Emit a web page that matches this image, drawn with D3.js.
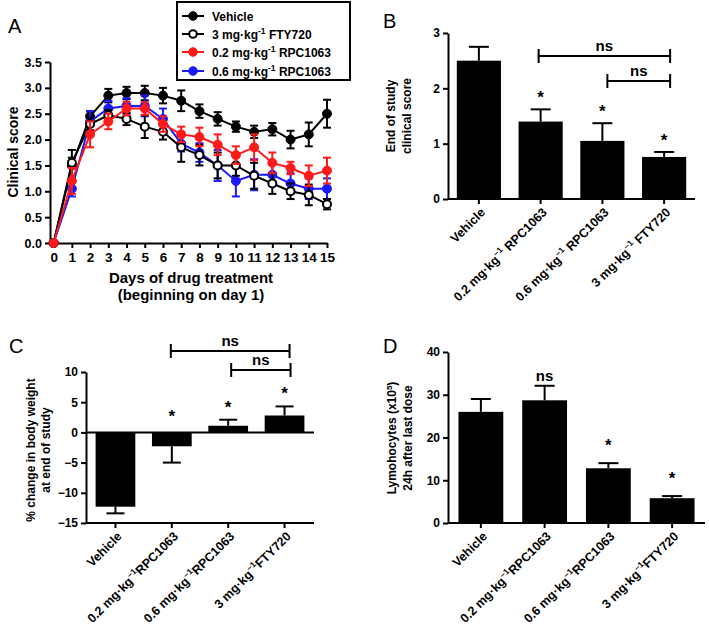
<!DOCTYPE html>
<html><head><meta charset="utf-8">
<script src="https://cdn.jsdelivr.net/npm/d3@7"></script>
<style>
body{margin:0;background:#fff;}
text{font-family:"Liberation Sans",Arial,sans-serif;}
</style></head>
<body>
<script>
// ---------- DATA ----------
const days = [0,1,2,3,4,5,6,7,8,9,10,11,12,13,14,15];
const vehicle    = [0,1.5,2.45,2.85,2.9,2.9,2.85,2.75,2.55,2.4,2.25,2.15,2.2,2.0,2.1,2.5];
const vehicleErr = [0,0.3,0.1,0.13,0.12,0.14,0.15,0.2,0.13,0.13,0.1,0.12,0.12,0.17,0.23,0.27];
const fty        = [0,1.55,2.3,2.47,2.4,2.25,2.15,1.85,1.7,1.5,1.5,1.3,1.15,1.0,0.93,0.75];
const ftyErr     = [0,0.1,0.12,0.1,0.12,0.22,0.15,0.28,0.2,0.25,0.2,0.25,0.2,0.15,0.2,0.1];
const rpc02      = [0,1.2,2.1,2.35,2.6,2.6,2.3,2.1,2.05,1.9,1.7,1.85,1.55,1.45,1.3,1.4];
const rpc02Err   = [0,0.25,0.25,0.15,0.13,0.12,0.15,0.15,0.18,0.2,0.17,0.25,0.2,0.12,0.2,0.25];
const rpc06      = [0,1.05,2.35,2.6,2.65,2.65,2.4,1.92,1.75,1.5,1.2,1.32,1.32,1.15,1.05,1.05];
const rpc06Err   = [0,0.15,0.2,0.15,0.15,0.2,0.2,0.15,0.18,0.3,0.3,0.3,0.2,0.2,0.2,0.2];
const seriesNames = ["Vehicle","3 mg·kg^{-1} FTY720","0.2 mg·kg^{-1} RPC1063","0.6 mg·kg^{-1} RPC1063"];
const ticksA_y = [0,0.5,1,1.5,2,2.5,3,3.5];

const catsB = ["Vehicle","0.2 mg·kg^{−1} RPC1063","0.6 mg·kg^{−1} RPC1063","3 mg·kg^{−1} FTY720"];
const catsCD = ["Vehicle","0.2 mg·kg^{−1}RPC1063","0.6 mg·kg^{−1}RPC1063","3 mg·kg^{−1}FTY720"];
const scoreB = [2.5,1.4,1.05,0.76];
const scoreBErr = [0.25,0.22,0.32,0.09];
const marksB = ["","*","*","*"];
const weightC = [-12.3,-2.3,1.1,2.8];
const weightCErr = [1.1,2.7,1.0,1.5];
const marksC = ["","*","*","*"];
const lymphD = [26.0,28.7,12.8,5.8];
const lymphDErr = [3.0,3.4,1.2,0.5];
const marksD = ["","ns","*","*"];
const ticksB = [0,1,2,3];
const ticksC = [-15,-10,-5,0,5,10];
const ticksD = [0,10,20,30,40];

// ---------- HELPERS ----------
const W=709,H=627;
const svg=d3.select("body").append("svg").attr("width",W).attr("height",H);
const BOLD="bold";
function rich(sel,str,supSize){
  const parts=str.split(/\^\{([^}]*)\}/);
  parts.forEach((p,i)=>{
    if(!p) return;
    const t=sel.append("tspan").text(p);
    if(i%2===1){t.attr("baseline-shift","super").attr("font-size",supSize);}
  });
  return sel;
}
function axisStyle(g){
  g.selectAll("path,line").attr("stroke","#000").attr("stroke-width",2);
  g.selectAll("text").attr("font-weight",BOLD).attr("fill","#000");
}

// ---------- PANEL A ----------
const xA=d3.scaleLinear().domain([-0.2,15]).range([50,327]);
const yA=d3.scaleLinear().domain([0,3.5]).range([243,62]);
const gA=svg.append("g");
gA.append("g").attr("transform","translate(50,0)")
  .call(d3.axisLeft(yA).tickValues(ticksA_y).tickFormat(d3.format(".1f")).tickSize(5).tickSizeOuter(0))
  .call(axisStyle).call(g=>g.selectAll("text").attr("font-size",12.5));
gA.append("g").attr("transform","translate(0,243)")
  .call(d3.axisBottom(xA).tickValues(days).tickFormat(d3.format("d")).tickSize(5).tickSizeOuter(0))
  .call(axisStyle).call(g=>g.selectAll("text").attr("font-size",13.5).attr("dy","0.85em"));
gA.append("text").attr("x",191).attr("y",283).attr("text-anchor","middle").attr("font-size",15).attr("font-weight",BOLD).text("Days of drug treatment");
gA.append("text").attr("x",191).attr("y",300).attr("text-anchor","middle").attr("font-size",15).attr("font-weight",BOLD).text("(beginning on day 1)");
gA.append("text").attr("transform","translate(13,152) rotate(-90)").attr("text-anchor","middle").attr("font-size",14).attr("font-weight",BOLD).attr("dy","0.35em").text("Clinical score");

const seriesA=[
  {v:vehicle,e:vehicleErr,c:"#000",open:false},
  {v:rpc06,e:rpc06Err,c:"#1a1aff",open:false},
  {v:fty,e:ftyErr,c:"#000",open:true},
  {v:rpc02,e:rpc02Err,c:"#ff1a1a",open:false}
];
const line=d3.line().x((d,i)=>xA(days[i])).y(d=>yA(d));
seriesA.forEach(s=>{
  const g=gA.append("g");
  g.append("path").attr("d",line(s.v)).attr("fill","none").attr("stroke",s.c).attr("stroke-width",2);
  s.v.forEach((v,i)=>{
    const e=s.e[i]; if(!e) return;
    const x=xA(days[i]);
    g.append("line").attr("x1",x).attr("x2",x).attr("y1",yA(v-e)).attr("y2",yA(v+e)).attr("stroke",s.c).attr("stroke-width",2);
    [v-e,v+e].forEach(b=>g.append("line").attr("x1",x-4).attr("x2",x+4).attr("y1",yA(b)).attr("y2",yA(b)).attr("stroke",s.c).attr("stroke-width",2));
  });
  g.selectAll("circle").data(s.v).join("circle")
    .attr("cx",(d,i)=>xA(days[i])).attr("cy",d=>yA(d)).attr("r",s.open?4:4.5)
    .attr("fill",s.open?"#fff":s.c).attr("stroke",s.c).attr("stroke-width",s.open?2:1);
});
// legend
const lg=svg.append("g");
lg.append("rect").attr("x",177).attr("y",2).attr("width",173).attr("height",78).attr("fill","#fff").attr("stroke","#000").attr("stroke-width",2);
const legendItems=[{c:"#000",open:false},{c:"#000",open:true},{c:"#ff1a1a",open:false},{c:"#1a1aff",open:false}];
const legY=[16,34,52,71];
legendItems.forEach((it,i)=>{
  const y=legY[i];
  lg.append("line").attr("x1",182).attr("x2",204).attr("y1",y).attr("y2",y).attr("stroke",it.c).attr("stroke-width",2);
  lg.append("circle").attr("cx",193).attr("cy",y).attr("r",it.open?3.8:4.3).attr("fill",it.open?"#fff":it.c).attr("stroke",it.c).attr("stroke-width",it.open?2:1);
  rich(lg.append("text").attr("x",212).attr("y",y).attr("dy","0.38em").attr("font-size",12).attr("font-weight",BOLD),seriesNames[i],8.5);
});

// ---------- BAR PANELS ----------
function barPanel(o){
  const g=svg.append("g");
  const y=d3.scaleLinear().domain(o.domain).range(o.yRange);
  const x=d3.scaleBand().domain(o.cats).range(o.xRange).paddingInner(o.pi).paddingOuter(o.po);
  g.append("g").attr("transform",`translate(${o.xRange[0]},0)`)
    .call(d3.axisLeft(y).tickValues(o.ticks).tickFormat(d3.format("d")).tickSize(5).tickSizeOuter(0))
    .call(axisStyle).call(gg=>gg.selectAll("text").attr("font-size",12));
  // bars
  o.vals.forEach((v,i)=>{
    const cx=x(o.cats[i])+x.bandwidth()/2;
    const top=Math.min(y(v),y(0)), bot=Math.max(y(v),y(0));
    g.append("rect").attr("x",x(o.cats[i])).attr("y",top).attr("width",x.bandwidth()).attr("height",bot-top).attr("fill","#000");
    const ev=v>=0?v+o.errs[i]:v-o.errs[i];
    g.append("line").attr("x1",cx).attr("x2",cx).attr("y1",y(v)).attr("y2",y(ev)).attr("stroke","#000").attr("stroke-width",2);
    g.append("line").attr("x1",cx-o.cap).attr("x2",cx+o.cap).attr("y1",y(ev)).attr("y2",y(ev)).attr("stroke","#000").attr("stroke-width",2);
    if(o.marks[i]){
      const mt=o.marks[i];
      const my=v>=0 ? y(ev)-(mt==="*"?o.starGap:o.nsGap) : y(0)-10;
      g.append("text").attr("x",cx).attr("y",my).attr("text-anchor","middle")
        .attr("font-size",mt==="*"?17:15).attr("font-weight",BOLD).text(mt);
    }
  });
  // zero line
  g.append("line").attr("x1",o.xRange[0]).attr("x2",o.xRange[1]).attr("y1",y(0)).attr("y2",y(0)).attr("stroke","#000").attr("stroke-width",2);
  // bottom axis
  const by=y(o.domain[0]);
  g.append("line").attr("x1",o.xRange[0]).attr("x2",o.xRange[1]).attr("y1",by).attr("y2",by).attr("stroke","#000").attr("stroke-width",2);
  o.cats.forEach(c=>{
    const cx=x(c)+x.bandwidth()/2;
    g.append("line").attr("x1",cx).attr("x2",cx).attr("y1",by).attr("y2",by+5).attr("stroke","#000").attr("stroke-width",2);
    rich(g.append("text").attr("transform",`translate(${cx+4},${by+11}) rotate(-45)`).attr("text-anchor","end").attr("dy","0.35em")
      .attr("font-size",12.5).attr("font-weight",BOLD),c,8.5);
  });
  // brackets
  (o.brackets||[]).forEach(b=>{
    const x1=x(o.cats[b.a])+x.bandwidth()/2+(b.dx1||0), x2=x(o.cats[b.b])+x.bandwidth()/2+(b.dx2||0);
    g.append("path").attr("d",`M${x1},${b.y-7}V${b.y+7}M${x1},${b.y}H${x2}M${x2},${b.y-7}V${b.y+7}`).attr("fill","none").attr("stroke","#000").attr("stroke-width",2);
    g.append("text").attr("x",(x1+x2)/2).attr("y",b.y-5).attr("text-anchor","middle").attr("font-size",15).attr("font-weight",BOLD).text("ns");
  });
  // y label
  o.ylab.forEach((l,i)=>{
    rich(g.append("text").attr("transform",`translate(${o.ylabX[i]},${o.ylabY}) rotate(-90)`).attr("text-anchor","middle").attr("dy","0.35em")
      .attr("font-size",12).attr("font-weight",BOLD),l,8);
  });
  return g;
}

barPanel({cats:catsB,vals:scoreB,errs:scoreBErr,marks:marksB,domain:[0,3],yRange:[199,33],xRange:[448,695],pi:0.285,po:0.1425,
  ticks:ticksB,cap:10,starGap:6,nsGap:6,ylab:["End of study","clinical score"],ylabX:[391,407],ylabY:116,
  brackets:[{a:1,b:3,y:56,dx1:-2,dx2:6},{a:2,b:3,y:81,dx1:5,dx2:6}]});
barPanel({cats:catsCD,vals:weightC,errs:weightCErr,marks:marksC,domain:[-15,10],yRange:[523,372],xRange:[86,314],pi:0.295,po:0.17,
  ticks:ticksC,cap:9,starGap:7,nsGap:6,ylab:["% change in body weight","at end of study"],ylabX:[31,46],ylabY:450,
  brackets:[{a:1,b:3,y:351,dx1:-1,dx2:5},{a:2,b:3,y:370,dx1:3,dx2:6}]});
barPanel({cats:catsCD,vals:lymphD,errs:lymphDErr,marks:marksD,domain:[0,40],yRange:[523,352],xRange:[448,705],pi:0.297,po:0.164,
  ticks:ticksD,cap:10,starGap:12,nsGap:5,ylab:["Lymohocytes (x10^{5})","24h after last dose"],ylabX:[392,408],ylabY:438});

// panel letters
[["A",8,33],["B",383,28],["C",9,353],["D",383,353]].forEach(([t,x,y])=>
  svg.append("text").attr("x",x).attr("y",y).attr("font-size",20).text(t));
</script>
</body></html>
